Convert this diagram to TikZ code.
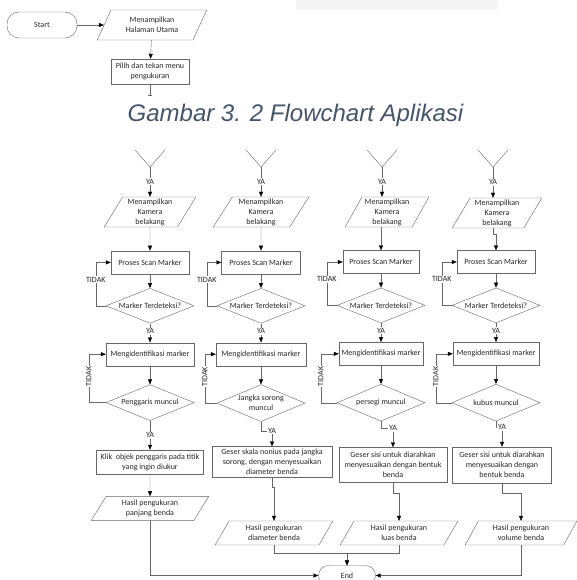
\documentclass[tikz,border=0pt]{standalone}
\usepackage{fontspec}
\setmainfont{Carlito}
\newfontfamily\figfont{Liberation Sans}
\usetikzlibrary{shapes.geometric}
\usetikzlibrary{arrows.meta}
\usetikzlibrary{positioning}
\definecolor{captionblue}{HTML}{44546A}
\tikzset{
	terminal/.style={rectangle, draw=black!60, rounded corners=10pt, align=center},
	io/.style={trapezium, trapezium left angle=60, trapezium right angle=120, trapezium stretches=true, draw=black!60, align=center, inner xsep=1pt, inner ysep=0pt},
	process/.style={rectangle, draw=black!60, align=center, inner sep=1pt},
	decision/.style={diamond, aspect=2.5, draw=black!60, align=center, inner sep=0pt},
	line/.style={draw, black!60},
	arrow/.style={draw, black!60, -{Triangle[length=5pt, width=4pt, color=black]}},
	lbl/.style={fill=white, inner sep=1pt, text=black!85}
}

\begin{document}
\begin{tikzpicture}[x=1pt, y=-1pt, every node/.style={font=\fontsize{8}{10}\selectfont, text=black!85}]
\useasboundingbox (0,0) rectangle (577,580);
\fill[black!4] (296,0) rectangle (498,10);

% bagian awal
\node[terminal, rounded corners=12pt, minimum width=70pt, minimum height=26pt] (start) at (42,25) {Start};
\node[io, minimum width=110pt, minimum height=30pt] (showhome) at (152,25) {Menampilkan\\Halaman Utama};
\node[process, minimum width=78pt, minimum height=25pt] (choose) at (150,71.5) {Pilih dan tekan menu\\pengukuran};
\coordinate (choosetip) at (150,95);

\draw [arrow] (start) -- (showhome);
\draw [arrow] (showhome) -- (choose);
\draw [line, -{Bar[width=4pt]}] (choose) -- (choosetip);

\node[font=\figfont\itshape\fontsize{24}{28}\selectfont, text=captionblue, anchor=base] (caption) at (295.5,122) {Gambar 3. 2 Flowchart Aplikasi};

% kolom 1: penggaris
\coordinate (arm1l) at (135,150);
\coordinate (arm1r) at (165,150);
\coordinate (apex1) at (150,167);
\node[io, minimum width=92pt, minimum height=30pt] (cam1) at (150,212) {Menampilkan\\Kamera\\belakang};
\node[process, minimum width=78pt, minimum height=23pt, below=23.5pt of cam1] (scan1) {Proses Scan Marker};
\node[decision, minimum width=88pt, minimum height=35pt, below=14pt of scan1] (detect1) {Marker Terdeteksi?};
\node[process, minimum width=88pt, minimum height=23pt, below=19pt of detect1] (ident1) {Mengidentifikasi marker};
\node[decision, minimum width=88pt, minimum height=36pt, below=18.5pt of ident1] (found1) {Penggaris muncul};
\node[process, minimum width=107pt, minimum height=24pt, below=29pt of found1] (klik) {Klik\ \ objek penggaris pada titik\\yang ingin diukur};
\node[io, minimum width=118pt, minimum height=24pt, below=22pt of klik] (panjang) {Hasil pengukuran\\panjang benda};

\draw [line] (arm1l) -- (apex1) -- (arm1r);
\draw [arrow] (apex1) -- node[lbl] {YA} (cam1);
\draw [arrow] (cam1) -- (scan1);
\draw [arrow] (scan1) -- (detect1);
\draw [arrow] (detect1.west) -- ++(-10,0) |- node[lbl, pos=0.3] {TIDAK} (scan1.west);
\draw [arrow] (detect1) -- node[lbl, pos=0.4] {YA} (ident1);
\draw [arrow] (ident1) -- (found1);
\draw [arrow] (found1.west) -- ++(-17,0) |- node[lbl, pos=0.27, rotate=90] {TIDAK} (ident1.west);
\draw [arrow] (found1) -- node[lbl] {YA} (klik);
\draw [arrow] (klik) -- (panjang);

% kolom 2: jangka sorong
\coordinate (arm2l) at (246,150);
\coordinate (arm2r) at (276,150);
\coordinate (apex2) at (261,167);
\node[io, minimum width=96pt, minimum height=30pt] (cam2) at (261,212) {Menampilkan\\Kamera\\belakang};
\node[process, minimum width=79pt, minimum height=23pt, below=23.5pt of cam2] (scan2) {Proses Scan Marker};
\node[decision, minimum width=88pt, minimum height=35pt, below=14pt of scan2] (detect2) {Marker Terdeteksi?};
\node[process, minimum width=90pt, minimum height=23pt, below=19pt of detect2] (ident2) {Mengidentifikasi marker};
\node[decision, minimum width=88pt, minimum height=37pt, inner sep=-4pt, below=18.5pt of ident2] (found2) {Jangka sorong\\muncul};
\node[process, minimum width=120pt, minimum height=31pt] (geserjs) at (272,462) {Geser skala nonius pada jangka\\sorong, dengan menyesuaikan\\diameter benda};
\node[io, minimum width=118pt, minimum height=24pt] (diameter) at (274,533) {Hasil pengukuran\\diameter benda};

\draw [line] (arm2l) -- (apex2) -- (arm2r);
\draw [arrow] (apex2) -- node[lbl] {YA} (cam2);
\draw [arrow] (cam2) -- (scan2);
\draw [arrow] (scan2) -- (detect2);
\draw [arrow] (detect2.west) -- ++(-10,0) |- node[lbl, pos=0.3] {TIDAK} (scan2.west);
\draw [arrow] (detect2) -- node[lbl, pos=0.4] {YA} (ident2);
\draw [arrow] (ident2) -- (found2);
\draw [arrow] (found2.west) -- ++(-12,0) |- node[lbl, pos=0.27, rotate=90] {TIDAK} (ident2.west);
\draw [arrow] (found2.south) -- ++(0,9) -| node[lbl, pos=0.5] {YA} (geserjs.north);
\draw [arrow] (geserjs.south) -- ++(0,9) -| (diameter.north);

% kolom 3: persegi
\coordinate (arm3l) at (367,150);
\coordinate (arm3r) at (397,150);
\coordinate (apex3) at (382,167);
\node[io, minimum width=84pt, minimum height=30pt] (cam3) at (387,212) {Menampilkan\\Kamera\\belakang};
\node[process, minimum width=76pt, minimum height=23pt] (scan3) at (381,262) {Proses Scan Marker};
\node[decision, minimum width=88pt, minimum height=35pt, below=14pt of scan3] (detect3) {Marker Terdeteksi?};
\node[process, minimum width=84pt, minimum height=23pt, below=19pt of detect3] (ident3) {Mengidentifikasi marker};
\node[decision, minimum width=88pt, minimum height=37pt, below=18.5pt of ident3] (found3) {persegi muncul};
\node[process, minimum width=108pt, minimum height=35pt] (geser3) at (393,465) {Geser sisi untuk diarahkan\\menyesuaikan dengan bentuk\\benda};
\node[io, minimum width=118pt, minimum height=24pt] (luas) at (399,533) {Hasil pengukuran\\luas benda};

\draw [line] (arm3l) -- (apex3) -- (arm3r);
\draw [arrow] (apex3) -- node[lbl] {YA} (apex3 |- cam3.north);
\draw [arrow] (cam3.south -| scan3) -- (scan3);
\draw [arrow] (scan3) -- (detect3);
\draw [arrow] (detect3.west) -- ++(-10,0) |- node[lbl, pos=0.3] {TIDAK} (scan3.west);
\draw [arrow] (detect3) -- node[lbl, pos=0.4] {YA} (ident3);
\draw [arrow] (ident3) -- (found3);
\draw [arrow] (found3.west) -- ++(-16,0) |- node[lbl, pos=0.27, rotate=90] {TIDAK} (ident3.west);
\draw [arrow] (found3.south) -- ++(0,7) -| node[lbl, pos=0.5] {YA} (geser3.north);
\draw [arrow] (geser3.south) -- ++(0,10) -| (luas.north);

% kolom 4: kubus
\coordinate (arm4l) at (478,150);
\coordinate (arm4r) at (508,150);
\coordinate (apex4) at (493,167);
\node[io, minimum width=90pt, minimum height=30pt] (cam4) at (497,213) {Menampilkan\\Kamera\\belakang};
\node[process, minimum width=78pt, minimum height=23pt] (scan4) at (496,262) {Proses Scan Marker};
\node[decision, minimum width=88pt, minimum height=35pt, below=14pt of scan4] (detect4) {Marker Terdeteksi?};
\node[process, minimum width=86pt, minimum height=23pt, below=19pt of detect4] (ident4) {Mengidentifikasi marker};
\node[decision, minimum width=88pt, minimum height=37pt, below=18.5pt of ident4] (found4) {kubus muncul};
\node[process, minimum width=99pt, minimum height=36pt] (geser4) at (502,465) {Geser sisi untuk diarahkan\\menyesuaikan dengan\\bentuk benda};
\node[io, minimum width=112pt, minimum height=24pt] (volume) at (521,533) {Hasil pengukuran\\volume benda};

\draw [line] (arm4l) -- (apex4) -- (arm4r);
\draw [arrow] (apex4) -- node[lbl] {YA} (apex4 |- cam4.north);
\draw [arrow] (cam4.south -| apex4) -- ++(0,6) -| (scan4.north);
\draw [arrow] (scan4) -- (detect4);
\draw [arrow] (detect4.west) -- ++(-10,0) |- node[lbl, pos=0.3] {TIDAK} (scan4.west);
\draw [arrow] (detect4) -- node[lbl, pos=0.4] {YA} (ident4);
\draw [arrow] (ident4) -- (found4);
\draw [arrow] (found4.west) -- ++(-16,0) |- node[lbl, pos=0.27, rotate=90] {TIDAK} (ident4.west);
\draw [arrow] (found4.south) -- ++(0,6) -| node[lbl, pos=0.5] {YA} (geser4.north);
\draw [arrow] (geser4.south) -- ++(0,10) -| (volume.north);

% akhir
\node[terminal, minimum width=57pt, minimum height=20pt] (finish) at (347,575.5) {End};

\draw [arrow] (panjang.south) |- (finish.west);
\draw [arrow] (diameter.south) -- ++(0,8) -| (finish.north);
\draw [arrow] (luas.south) -- ++(0,8) -| (finish.north);
\draw [arrow] (volume.south) |- (finish.east);

\end{tikzpicture}
\end{document}
